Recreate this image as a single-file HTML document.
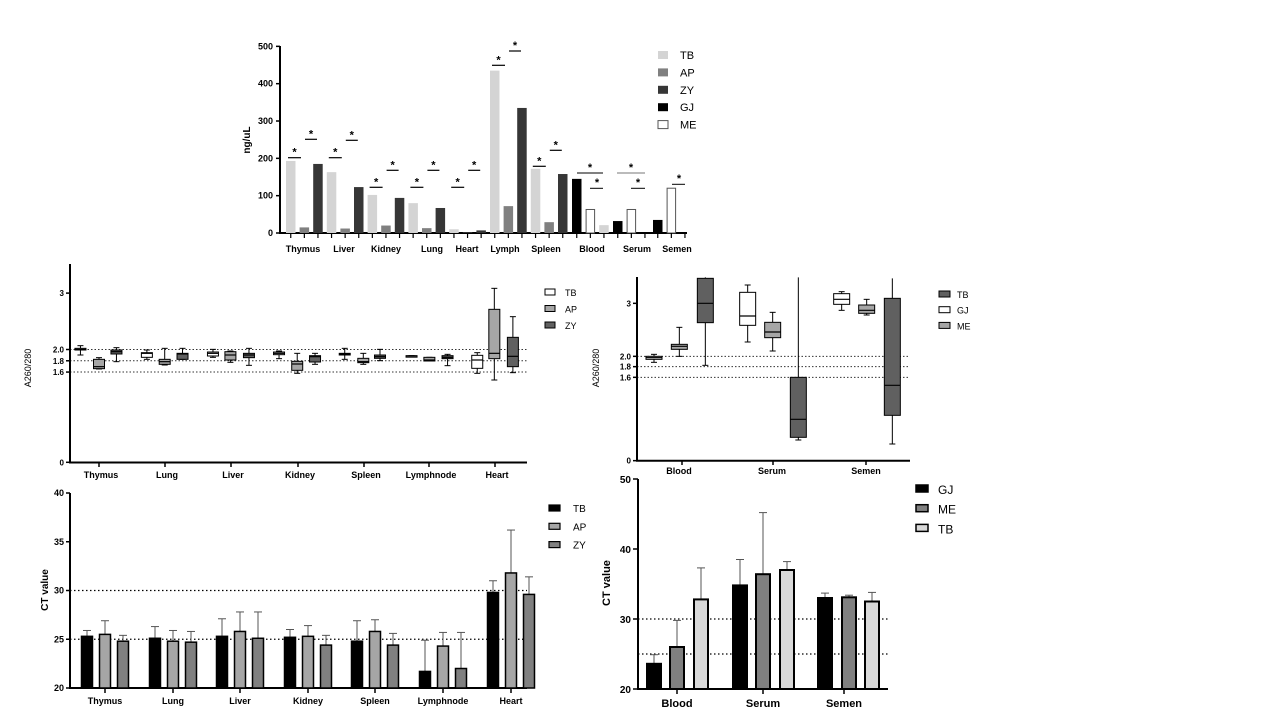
<!DOCTYPE html>
<html><head><meta charset="utf-8"><style>
body{margin:0;background:#fff;width:1280px;height:720px;overflow:hidden}
svg{display:block}
text{font-family:"Liberation Sans",Arial,sans-serif}
</style></head><body>
<svg id="s" width="1280" height="720" xmlns="http://www.w3.org/2000/svg"></svg>
<script>
const S=document.getElementById('s');let h='';
function L(x1,y1,x2,y2,c,w,d){h+=`<line x1="${x1}" y1="${y1}" x2="${x2}" y2="${y2}" stroke="${c||'#000'}" stroke-width="${w||1}"${d?` stroke-dasharray="${d}"`:''}/>`;}
function R(x,y,w,hh,f,s,sw){h+=`<rect x="${x}" y="${y}" width="${w}" height="${hh}" fill="${f}"${s?` stroke="${s}" stroke-width="${sw||1}"`:''}/>`;}
function T(x,y,t,sz,a,b,rot){h+=`<text x="${x}" y="${y}" font-size="${sz}" text-anchor="${a||'middle'}"${b?' font-weight="bold"':''}${rot?` transform="rotate(-90 ${x} ${y})"`:''}>${t}</text>`;}

/* ===== Top chart ===== */
{const y=v=>233-v*0.3733;
L(280,46,280,234,'#000',2);L(279,233,687,233,'#000',2);
[0,100,200,300,400,500].forEach(v=>{L(276,y(v),280,y(v),'#000',1.5);T(273,y(v)+3,v,9,'end',1);});
T(250,140,'ng/uL',10,'middle',1,1);
const C={TB:'#d4d4d4',AP:'#808080',ZY:'#363636',GJ:'#000'};
const G=[[193,15,185],[163,12,123],[102,20,94],[80,13,67],[10,1,7],[435,72,335],[172,29,158]];
G.forEach((g,i)=>{['TB','AP','ZY'].forEach((k,j)=>{const x=286+i*40.8+j*13.6;R(x,y(g[j]),9.5,233-y(g[j]),C[k]);L(x+4.75,233,x+4.75,238,'#000',1.2);});});
const other=[[['GJ',145],['ME',63],['TB',21]],[['GJ',32],['ME',63],['TB',0]],[['GJ',35],['ME',120],['TB',0]]];
const ox=[572,613,653];
other.forEach((g,i)=>g.forEach((b,j)=>{const x=ox[i]+j*13.6;if(b[0]=='ME')R(x+0.5,y(b[1]),8.5,233-y(b[1]),'#fff','#555',1);else if(b[1]>0)R(x,y(b[1]),9.5,233-y(b[1]),C[b[0]]);L(x+4.75,233,x+4.75,238,'#000',1.2);}));
const sig=[[157.7,139.3],[157.7,140.3],[187.3,170.3],[187.3,170.3],[187.3,170.3],[65.3,51],[166.3,150.3]];
sig.forEach((s,i)=>{const x=286+i*40.8;L(x+2,s[0],x+15,s[0],'#000',1.2);T(x+8.5,s[0]-2,'*',11,'middle',1);L(x+19,s[1],x+31,s[1],'#000',1.2);T(x+25,s[1]-2,'*',11,'middle',1);});
L(577,173,603,173);T(590,171,'*',11,'middle',1);L(590,188.3,603,188.3);T(597,186,'*',11,'middle',1);
L(617,173,645,173,'#777');T(631,171,'*',11,'middle',1);L(631,188.3,645,188.3);T(638,186,'*',11,'middle',1);
L(672,184.3,685,184.3);T(679,182,'*',11,'middle',1);
[['Thymus',303],['Liver',344],['Kidney',386],['Lung',432],['Heart',467],['Lymph',505],['Spleen',546],['Blood',592],['Serum',637],['Semen',677]].forEach(c=>T(c[1],252,c[0],9,'middle',1));
[['TB','#d4d4d4'],['AP','#808080'],['ZY','#363636'],['GJ','#000'],['ME','#fff']].forEach((l,i)=>{const yy=51+i*17.4;R(658,yy,10,8,l[1],l[0]=='ME'?'#555':null);T(680,yy+8,l[0],11,'start');});
}

/* ===== Middle-left box chart ===== */
{const y=v=>462.3-v*56.4;
[2,1.8,1.6].forEach(v=>L(70,y(v),527,y(v),'#333',1,'1.5,2'));
L(70,264,70,463,'#000',2);L(69,462.5,527,462.5,'#000',2);
[[3,'3'],[2,'2.0'],[1.8,'1.8'],[1.6,'1.6'],[0,'0']].forEach(t=>{L(66,y(t[0]),70,y(t[0]),'#000',1.5);T(64,y(t[0])+3,t[1],8,'end',1);});
T(31,368,'A260/280',9,'middle',0,1);
const cats=['Thymus','Lung','Liver','Kidney','Spleen','Lymphnode','Heart'];
const cx=[99,165,231,298,364,429,495];
cats.forEach((c,i)=>{L(cx[i],463,cx[i],467,'#000',1.5);T(cx[i]+2,478,c,9,'middle',1);});
const X=zx=>99+(zx-218)/2.694, Y=zy=>260+zy/3;
const fills=['#fff','#a6a6a6','#606060'];
const B=[[168,257,285,265,270,268,0],[218,293,327,298,326,320,1],[265,263,305,270,282,275,2],
[347,270,298,278,292,280,0],[395,265,315,298,313,305,1],[443,265,298,280,298,282,2],
[525,268,292,276,288,280,0],[572,273,307,275,300,285,1],[622,265,316,280,293,285,2],
[703,273,296,276,284,280,0],[752,280,340,304,331,312,1],[800,280,313,287,306,290,2],
[880,265,298,280,285,282,0],[930,280,313,295,308,305,1],[975,268,302,285,295,290,2],
[1060,287,289,287,289,288,0],[1108,292,303,292,303,300,1],[1157,283,317,287,296,292,2],
[1237,278,340,286,325,300,0],[1283,85,360,148,296,280,1],[1333,170,338,232,320,289,2]];
B.forEach(b=>{const x=X(b[0]),w=11;L(x,Y(b[1]),x,Y(b[2]),'#000',1);L(x-3,Y(b[1]),x+3,Y(b[1]),'#000',1);L(x-3,Y(b[2]),x+3,Y(b[2]),'#000',1);R(x-w/2,Y(b[3]),w,Math.max(Y(b[4])-Y(b[3]),1.5),fills[b[6]],'#000',1);L(x-w/2,Y(b[5]),x+w/2,Y(b[5]),'#000',1.2);});
[['TB','#fff'],['AP','#a6a6a6'],['ZY','#606060']].forEach((l,i)=>{const yy=289+i*16.5;R(545,yy,10,6,l[1],'#000');T(565,yy+7,l[0],9,'start');});
}

/* ===== Middle-right box chart ===== */
{const X=zx=>590+zx/3, Y=zy=>260+zy/3;
[289,320,352].forEach(z=>L(637,Y(z),909,Y(z),'#333',1,'1.5,2'));
L(637,277,637,461,'#000',2);L(636,460.7,910,460.7,'#000',2);
[[130,'3'],[289,'2.0'],[320,'1.8'],[352,'1.6'],[602,'0']].forEach(t=>{L(633,Y(t[0]),637,Y(t[0]),'#000',1.5);T(631,Y(t[0])+3,t[1],8,'end',1);});
T(599,368,'A260/280',9,'middle',0,1);
[['Blood',679,682],['Serum',772,773],['Semen',866,866]].forEach(c=>{L(c[2],461,c[2],465,'#000',1.5);T(c[1],474,c[0],9,'middle',1);});
const fills={GJ:'#fff',ME:'#a6a6a6',TB:'#606060'};
const B=[[192,283,307,289,298,293,'GJ'],[268,202,289,253,268,259,'ME'],[346,52,316,55,188,130,'TB'],
[473,75,246,97,196,168,'GJ'],[548,157,273,187,233,216,'ME'],[625,52,540,352,532,478,'TB'],
[755,95,151,101,133,118,'GJ'],[830,118,165,135,160,151,'ME'],[907,55,552,115,466,376,'TB']];
B.forEach(b=>{const x=X(b[0]),w=16;L(x,Y(b[1]),x,Y(b[2]),'#000',1);L(x-3,Y(b[2]),x+3,Y(b[2]),'#000',1);if(b[1]>60)L(x-3,Y(b[1]),x+3,Y(b[1]),'#000',1);R(x-w/2,Y(b[3]),w,Y(b[4])-Y(b[3]),fills[b[6]],'#000',1);L(x-w/2,Y(b[5]),x+w/2,Y(b[5]),'#000',1.2);});
[['TB','#606060'],['GJ','#fff'],['ME','#a6a6a6']].forEach((l,i)=>{const yy=291+i*15.7;R(939,yy,11,6,l[1],'#000');T(957,yy+7,l[0],9,'start');});
}

/* ===== Bottom-left bar chart ===== */
{const y=v=>688-(v-20)*9.75;
[30,25].forEach(v=>L(70,y(v),527,y(v),'#000',1.2,'1.5,2.5'));
L(70,493,70,689,'#000',2);L(69,688,527,688,'#000',2);
[20,25,30,35,40].forEach(v=>{L(66,y(v),70,y(v),'#000',1.5);T(64,y(v)+3,v,9,'end',1);});
T(48,590,'CT value',10,'middle',1,1);
const cats=['Thymus','Lung','Liver','Kidney','Spleen','Lymphnode','Heart'];
const cx=[105,173,240,308,375,443,511];
const V=[[[25.3,25.9],[25.5,26.9],[24.8,25.4]],[[25.1,26.3],[24.8,25.9],[24.7,25.8]],[[25.3,27.1],[25.8,27.8],[25.1,27.8]],[[25.2,26],[25.3,26.4],[24.4,25.4]],[[24.8,26.9],[25.8,27],[24.4,25.6]],[[21.7,24.9],[24.3,25.7],[22,25.7]],[[29.8,31],[31.8,36.2],[29.6,31.4]]];
const f=['#000','#a6a6a6','#808080'];
cats.forEach((c,i)=>{L(cx[i],689,cx[i],693,'#000',1.5);T(cx[i],704,c,9,'middle',1);
V[i].forEach((v,j)=>{const x=cx[i]-18+j*18;L(x,y(v[0]),x,y(v[1]),'#555',1);L(x-4,y(v[1]),x+4,y(v[1]),'#555',1);R(x-5.5,y(v[0]),11,688-y(v[0]),f[j],'#000',1.5);});});
[['TB','#000'],['AP','#a6a6a6'],['ZY','#808080']].forEach((l,i)=>{const yy=505+i*18.3;R(549,yy,11,6,l[1],'#000',1.2);T(573,yy+7,l[0],10,'start');});
}

/* ===== Bottom-right bar chart ===== */
{const y=v=>689-(v-20)*7;
[30,25].forEach(v=>L(638,y(v),888,y(v),'#000',1.2,'1.5,2.5'));
L(638,479,638,690,'#000',2);L(637,689,888,689,'#000',2);
[20,30,40,50].forEach(v=>{L(633,y(v),638,y(v),'#000',1.5);T(631,y(v)+4,v,10,'end',1);});
T(610,583,'CT value',11,'middle',1,1);
const cx=[677,763,844];const cats=['Blood','Serum','Semen'];
const xs=[[654,677,701],[740,763,787],[825,849,872]];
const V=[[[23.6,24.9],[26,29.8],[32.8,37.3]],[[34.8,38.5],[36.4,45.2],[37,38.2]],[[33,33.7],[33.1,33.4],[32.5,33.8]]];
const f=['#000','#808080','#d9d9d9'];
cats.forEach((c,i)=>{L(cx[i],689,cx[i],694,'#000',1.5);T(cx[i],707,c,11,'middle',1);
V[i].forEach((v,j)=>{const x=xs[i][j];L(x,y(v[0]),x,y(v[1]),'#555',1);L(x-4,y(v[1]),x+4,y(v[1]),'#555',1);R(x-7,y(v[0]),14,689-y(v[0]),f[j],'#000',2);});});
[['GJ','#000'],['ME','#808080'],['TB','#d9d9d9']].forEach((l,i)=>{const yy=485+i*19.7;R(916,yy,12,7,l[1],'#000',1.5);T(938,yy+9,l[0],12,'start');});
}
S.innerHTML=h;
</script>
</body></html>
